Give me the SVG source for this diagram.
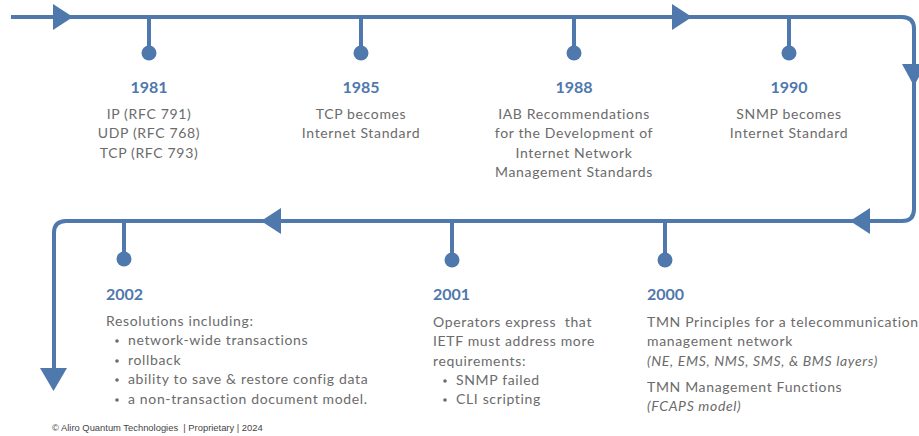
<svg xmlns="http://www.w3.org/2000/svg" width="919" height="436" viewBox="0 0 919 436">
<style>
.ln{fill:none;stroke:#4f78ad;stroke-width:4;stroke-linejoin:round}
.ah{fill:#4f78ad}
.st{stroke:#4f78ad;stroke-width:4}
.dot{fill:#4f78ad}
.bl{fill:#6b6b6b}
.yr{font-family:Lato,"Liberation Sans",sans-serif;font-weight:bold;font-size:16px;fill:#4f78ad}
.tx{font-family:Lato,"Liberation Sans",sans-serif;font-size:14px;fill:#6b6b6b;letter-spacing:0.65px;white-space:pre}
.c{text-anchor:middle}
.it{font-style:italic}
.ft{font-family:"Liberation Sans",Arial,sans-serif;font-size:9.4px;fill:#444444;white-space:pre}
</style>
<rect width="919" height="436" fill="#ffffff"/>
<g id="connectors">
<path class="ln" d="M11,17 H902 Q914,17 914,29 V209 Q914,221 902,221 H66 Q54,221 54,233 V372"/>
<polygon class="ah" points="53,4 73,17 53,30"/>
<polygon class="ah" points="672,4 692,17 672,30"/>
<polygon class="ah" points="902,64 926,64 914,86"/>
<polygon class="ah" points="870,208 870,234 850,221"/>
<polygon class="ah" points="281,208 281,234 261,221"/>
<polygon class="ah" points="40,368 67,368 53.5,391"/>
</g>
<g id="n1981">
<line class="st" x1="149" y1="17" x2="149" y2="50"/><circle class="dot" cx="149" cy="53" r="7.5"/>
<text class="yr c" x="149" y="93">1981</text>
<text class="tx c" x="149" y="119">IP (RFC 791)</text>
<text class="tx c" x="149" y="138">UDP (RFC 768)</text>
<text class="tx c" x="149" y="158">TCP (RFC 793)</text>
</g>
<g id="n1985">
<line class="st" x1="361" y1="17" x2="361" y2="50"/><circle class="dot" cx="361" cy="53" r="7.5"/>
<text class="yr c" x="361" y="93">1985</text>
<text class="tx c" x="361" y="119">TCP becomes</text>
<text class="tx c" x="361" y="138">Internet Standard</text>
</g>
<g id="n1988">
<line class="st" x1="574" y1="17" x2="574" y2="50"/><circle class="dot" cx="574" cy="53" r="7.5"/>
<text class="yr c" x="574" y="93">1988</text>
<text class="tx c" x="574" y="119">IAB Recommendations</text>
<text class="tx c" x="574" y="138">for the Development of</text>
<text class="tx c" x="574" y="158">Internet Network</text>
<text class="tx c" x="574" y="177">Management Standards</text>
</g>
<g id="n1990">
<line class="st" x1="789" y1="17" x2="789" y2="50"/><circle class="dot" cx="789" cy="53" r="7.5"/>
<text class="yr c" x="789" y="93">1990</text>
<text class="tx c" x="789" y="119">SNMP becomes</text>
<text class="tx c" x="789" y="138">Internet Standard</text>
</g>
<g id="n2000">
<line class="st" x1="665" y1="221" x2="665" y2="257"/><circle class="dot" cx="665" cy="260" r="7.5"/>
<text class="yr" x="647" y="300">2000</text>
<text class="tx" x="647" y="327">TMN Principles for a telecommunication</text>
<text class="tx" x="647" y="346">management network</text>
<text class="tx it" x="647" y="366">(NE, EMS, NMS, SMS, &amp; BMS layers)</text>
<text class="tx" x="647" y="392">TMN Management Functions</text>
<text class="tx it" x="647" y="411">(FCAPS model)</text>
</g>
<g id="n2001">
<line class="st" x1="452" y1="221" x2="452" y2="257"/><circle class="dot" cx="452" cy="260" r="7.5"/>
<text class="yr" x="433" y="300">2001</text>
<text class="tx" x="433" y="327">Operators express  that</text>
<text class="tx" x="433" y="346">IETF must address more</text>
<text class="tx" x="433" y="366">requirements:</text>
<circle class="bl" cx="445" cy="381" r="1.8"/>
<text class="tx" x="456" y="385">SNMP failed</text>
<circle class="bl" cx="445" cy="400" r="1.8"/>
<text class="tx" x="456" y="404">CLI scripting</text>
</g>
<g id="n2002">
<line class="st" x1="124" y1="221" x2="124" y2="256"/><circle class="dot" cx="124" cy="259" r="7.5"/>
<text class="yr" x="106" y="300">2002</text>
<text class="tx" x="106" y="326">Resolutions including:</text>
<circle class="bl" cx="117" cy="341" r="1.8"/>
<text class="tx" x="128" y="345">network-wide transactions</text>
<circle class="bl" cx="117" cy="361" r="1.8"/>
<text class="tx" x="128" y="365">rollback</text>
<circle class="bl" cx="117" cy="380" r="1.8"/>
<text class="tx" x="128" y="384">ability to save &amp; restore config data</text>
<circle class="bl" cx="117" cy="400" r="1.8"/>
<text class="tx" x="128" y="404">a non-transaction document model.</text>
</g>
<text class="ft" x="52" y="431">© Aliro Quantum Technologies  | Proprietary | 2024</text>
</svg>
